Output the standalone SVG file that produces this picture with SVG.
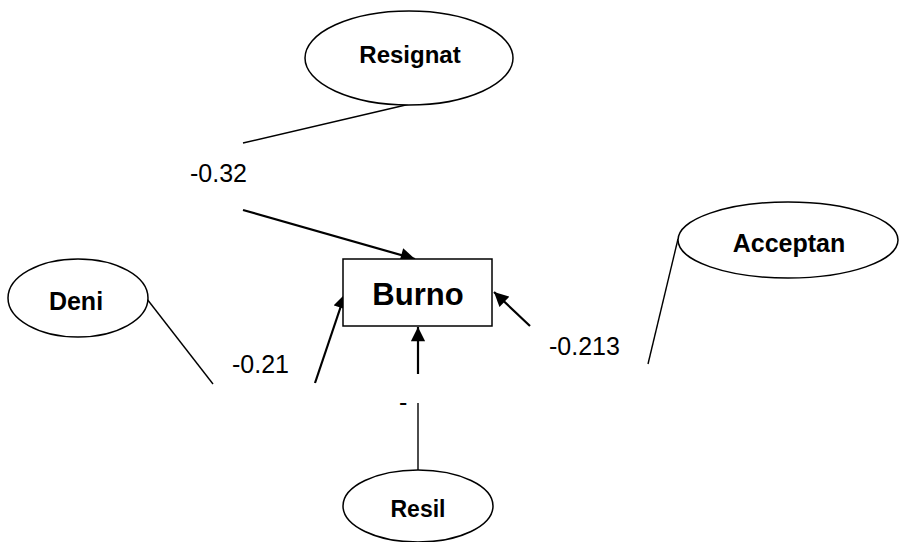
<svg xmlns="http://www.w3.org/2000/svg" width="906" height="542" viewBox="0 0 906 542">
<style>
.node{fill:#fff;stroke:#000;stroke-width:1.5}
.lbl{font-family:"Liberation Sans",Arial,sans-serif;font-weight:bold;fill:#000;text-anchor:middle}
.num{font-family:"Liberation Sans",Arial,sans-serif;font-size:25px;fill:#000}
.thin{stroke:#000;stroke-width:1.4;fill:none}
.arr{stroke:#000;stroke-width:2.2;fill:none;marker-end:url(#ah)}
</style>
<defs>
<marker id="ah" viewBox="0 0 10 10" refX="10" refY="5" markerWidth="7" markerHeight="6.5" markerUnits="strokeWidth" orient="auto">
<path d="M0,0 L10,5 L0,10 z" fill="#000"/>
</marker>
</defs>
<rect width="906" height="542" fill="#fff"/>
<g id="connectors">
<line class="thin" x1="243" y1="143" x2="410" y2="104"/>
<line class="thin" x1="147" y1="299" x2="213" y2="384"/>
<line class="thin" x1="678" y1="239" x2="648" y2="364"/>
<line class="thin" x1="418" y1="403" x2="418" y2="470"/>
<line class="arr" x1="243" y1="210" x2="415" y2="259"/>
<line class="arr" x1="315" y1="383" x2="345" y2="294"/>
<line class="arr" x1="530" y1="326" x2="494" y2="292"/>
<line class="arr" x1="418" y1="374" x2="418" y2="327"/>
<text class="num" x="190" y="182">-0.32</text>
<text class="num" x="232" y="373">-0.21</text>
<text class="num" x="549" y="355">-0.213</text>
<text class="num" x="399" y="411">-</text>
</g>
<g id="resignat">
<ellipse class="node" cx="409" cy="58" rx="104" ry="47"/>
<text class="lbl" x="410" y="63" font-size="24">Resignat</text>
</g>
<g id="burno">
<rect class="node" x="343" y="259" width="149" height="67"/>
<text class="lbl" x="418" y="305" font-size="31">Burno</text>
</g>
<g id="deni">
<ellipse class="node" cx="78" cy="298" rx="70" ry="39"/>
<text class="lbl" x="76" y="310" font-size="25">Deni</text>
</g>
<g id="acceptan">
<ellipse class="node" cx="788" cy="240" rx="110" ry="38"/>
<text class="lbl" x="789" y="252" font-size="25">Acceptan</text>
</g>
<g id="resil">
<ellipse class="node" cx="418" cy="506" rx="75" ry="36"/>
<text class="lbl" x="418" y="517" font-size="23">Resil</text>
</g>
</svg>
